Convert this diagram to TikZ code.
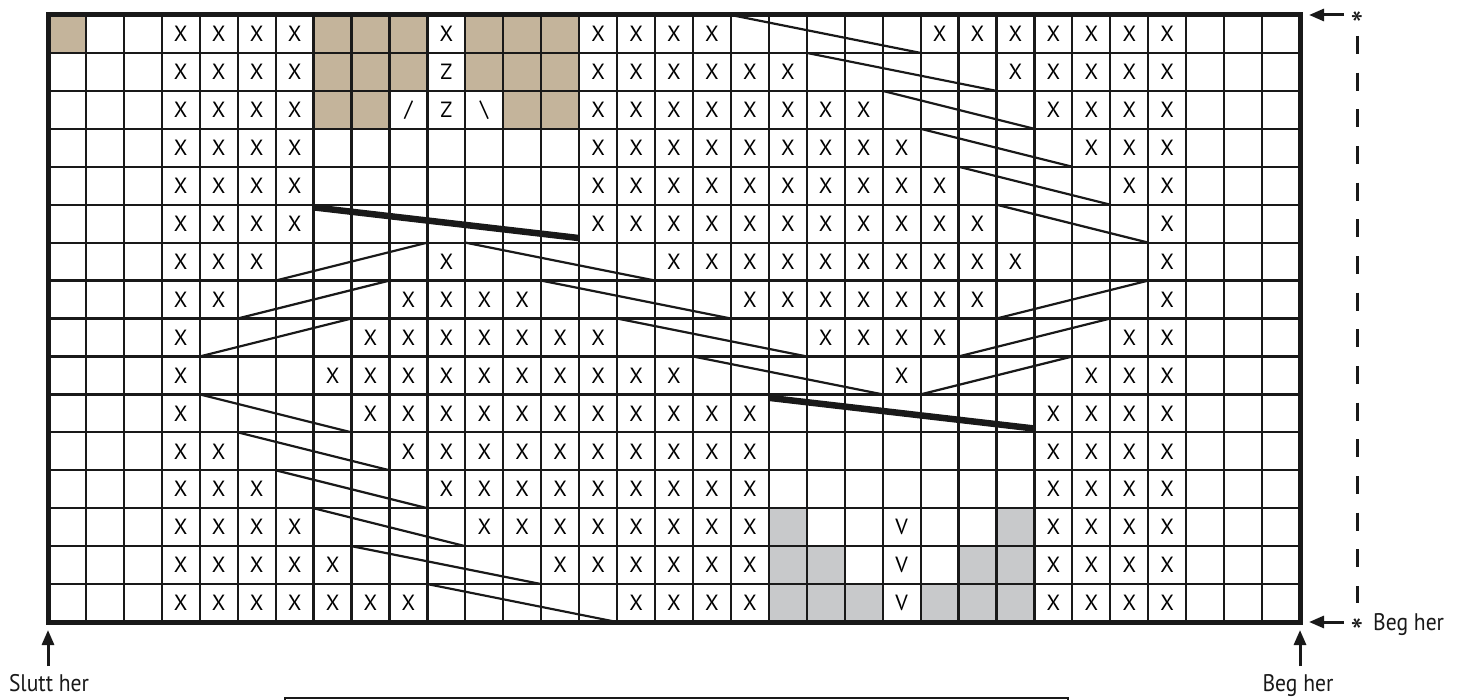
\documentclass[tikz,border=0pt]{standalone}
\usepackage{fontspec}
\setmainfont{PT Sans}
\newfontfamily\labelfont{PT Sans}[FakeStretch=0.9]
\usetikzlibrary{arrows.meta}
\definecolor{chartTan}{RGB}{196,180,155}
\definecolor{chartGray}{RGB}{200,201,203}
\tikzset{
  sym/.style={inner sep=0pt, font=\fontsize{22}{24}\selectfont},
  gridline/.style={line width=2.2pt, black!90},
  borderline/.style={line width=5pt, black!90, line cap=rect},
  decline/.style={line width=2.2pt, black!90},
  thickdec/.style={line width=6.5pt, black!90},
  annarrow/.style={line width=3pt, black!90, -{Triangle[length=15pt,width=12pt]}},
  dashline/.style={line width=3pt, black!90, dash pattern=on 18pt off 18.67pt},
  lbl/.style={inner sep=0pt, anchor=base, font=\labelfont\fontsize{24}{26}\selectfont, text=black!90},
  starlbl/.style={inner sep=0pt, anchor=base, font=\fontsize{36}{38}\selectfont, text=black!90},
  boxline/.style={line width=2.5pt, black!90},
}
\begin{document}
\begin{tikzpicture}[x=1pt,y=-1pt]
\useasboundingbox (0,0) rectangle (1466,700);
\begin{scope}[shift={(48pt,-15pt)},x=37.94pt,y=-37.94pt]
  % tan cells
  \foreach \r/\c in {0/0,0/7,0/8,0/9,0/11,0/12,0/13,1/7,1/8,1/9,1/11,1/12,1/13,2/7,2/8,2/12,2/13}
    \fill[chartTan] (\c,\r) rectangle ++(1,1);
  % gray cells
  \foreach \r/\c in {13/19,13/25,14/19,14/20,14/24,14/25,15/19,15/20,15/21,15/23,15/24,15/25}
    \fill[chartGray] (\c,\r) rectangle ++(1,1);
  % X symbols
  \foreach \r/\a/\b in {0/3/6,0/10/10,0/14/17,0/23/29,
      1/3/6,1/14/19,1/25/29,
      2/3/6,2/14/21,2/26/29,
      3/3/6,3/14/22,3/27/29,
      4/3/6,4/14/23,4/28/29,
      5/3/6,5/14/24,5/29/29,
      6/3/5,6/10/10,6/16/25,6/29/29,
      7/3/4,7/9/12,7/18/24,7/29/29,
      8/3/3,8/8/14,8/20/23,8/28/29,
      9/3/3,9/7/16,9/22/22,9/27/29,
      10/3/3,10/8/18,10/26/29,
      11/3/4,11/9/18,11/26/29,
      12/3/5,12/10/18,12/26/29,
      13/3/6,13/11/18,13/26/29,
      14/3/7,14/13/18,14/26/29,
      15/3/9,15/15/18,15/26/29}
  {
    \foreach \c in {\a,...,\b}
      \node[sym] (x-\r-\c) at (\c+0.5,\r+0.5) {X};
  }
  % other symbols
  \node[sym] (z-1) at (10.5,1.5) {Z};
  \node[sym] (z-2) at (10.5,2.5) {Z};
  \node[sym] (sl-2) at (9.5,2.5) {/};
  \node[sym] (bs-2) at (11.5,2.5) {\textbackslash};
  \foreach \r in {13,14,15}
    \node[sym] (v-\r) at (22.5,\r+0.5) {V};
  % grid
  \foreach \c in {1,...,32}
    \draw[gridline] (\c,0) -- (\c,16);
  \foreach \r in {1,...,15}
    \draw[gridline] (0,\r) -- (33,\r);
  % decrease / cable lines
  \foreach \xa/\ya/\xb/\yb in {18/0/23/1, 20/1/25/2, 22/2/26/3, 23/3/27/4, 24/4/28/5, 25/5/29/6,
      6/7/10/6, 11/6/16/7, 5/8/9/7, 13/7/18/8, 25/8/29/7,
      4/9/8/8, 15/8/20/9, 24/9/28/8, 17/9/22/10, 23/10/27/9,
      4/10/8/11, 5/11/9/12, 6/12/10/13, 7/13/11/14, 8/14/13/15, 10/15/15/16}
    \draw[decline] (\xa,\ya) -- (\xb,\yb);
  \draw[thickdec] (7,5.07) -- (14,5.88);
  \draw[thickdec] (19,10.09) -- (26,10.9);
  % border
  \draw[borderline] (0,0) rectangle (33,16);
\end{scope}
% annotations right
\coordinate (topTail) at (1344,15);
\coordinate (topTip) at (1309,15);
\draw[annarrow] (topTail) -- (topTip);
\node[starlbl] (topStar) at (1357,38) {*};
\coordinate (dashTop) at (1357,36);
\coordinate (dashBot) at (1357,603);
\draw[dashline] (dashTop) -- (dashBot);
\coordinate (botTail) at (1344,622);
\coordinate (botTip) at (1309,622);
\draw[annarrow] (botTail) -- (botTip);
\node[starlbl] (botStar) at (1357,644) {*};
\node[lbl, anchor=base west] (begRight) at (1373,630) {Beg her};
% bottom arrows
\coordinate (leftTail) at (48,666);
\coordinate (leftTip) at (48,630);
\draw[annarrow] (leftTail) -- (leftTip);
\coordinate (rightTail) at (1300,666);
\coordinate (rightTip) at (1300,630);
\draw[annarrow] (rightTail) -- (rightTip);
\node[lbl] (slutt) at (49,691) {Slutt her};
\node[lbl] (begBottom) at (1298,691) {Beg her};
% box at bottom
\draw[boxline] (285,710) -- (285,698) -- (1068,698) -- (1068,710);
\end{tikzpicture}
\end{document}
